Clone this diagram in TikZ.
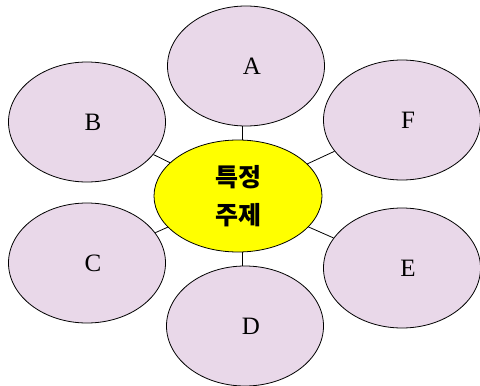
\documentclass[tikz,border=0pt]{standalone}
\usepackage{fontspec}
\setmainfont{Liberation Serif}
\newfontfamily\krfont{Noto Sans CJK KR}
\usepackage{xcolor}
\usepackage{tikz}
\usetikzlibrary{shapes.geometric}

\definecolor{petal}{RGB}{233,216,233}
\definecolor{sun}{RGB}{255,255,0}

\begin{document}
\begin{tikzpicture}[
  x=1pt, y=-1pt,
  petal/.style={draw, ellipse, fill=petal, line width=0.8pt, inner sep=0pt, minimum width=157pt, minimum height=120pt, font=\fontsize{25}{28}\selectfont, execute at begin node=\hspace*{12pt}},
  topic/.style={draw, ellipse, fill=sun, line width=0.8pt, inner sep=0pt, minimum width=168pt, minimum height=112pt, align=center, font=\krfont\bfseries\fontsize{25}{38}\selectfont},
  link/.style={line width=0.8pt}
]
\useasboundingbox (0,0) rectangle (480,386);
\node[topic] (theme) at (238,196) {특정\\주제};

\node[petal] (a) at (246,66) {A};
\node[petal] (b) at (87,122) {B};
\node[petal] (c) at (87,263) {C};
\node[petal] (d) at (245,326) {D};
\node[petal] (e) at (402,268) {E};
\node[petal] (f) at (402,120) {F};

\draw[link] ([xshift=4pt]theme.north) -- ([xshift=4pt]theme.north |- a.south);
\draw[link] (theme) -- (b);
\draw[link] (theme) -- (c);
\draw[link] ([xshift=4pt]theme.south) -- ([xshift=4pt]theme.south |- d.north);
\draw[link] (theme) -- (e);
\draw[link] (theme) -- (f);
\end{tikzpicture}
\end{document}
